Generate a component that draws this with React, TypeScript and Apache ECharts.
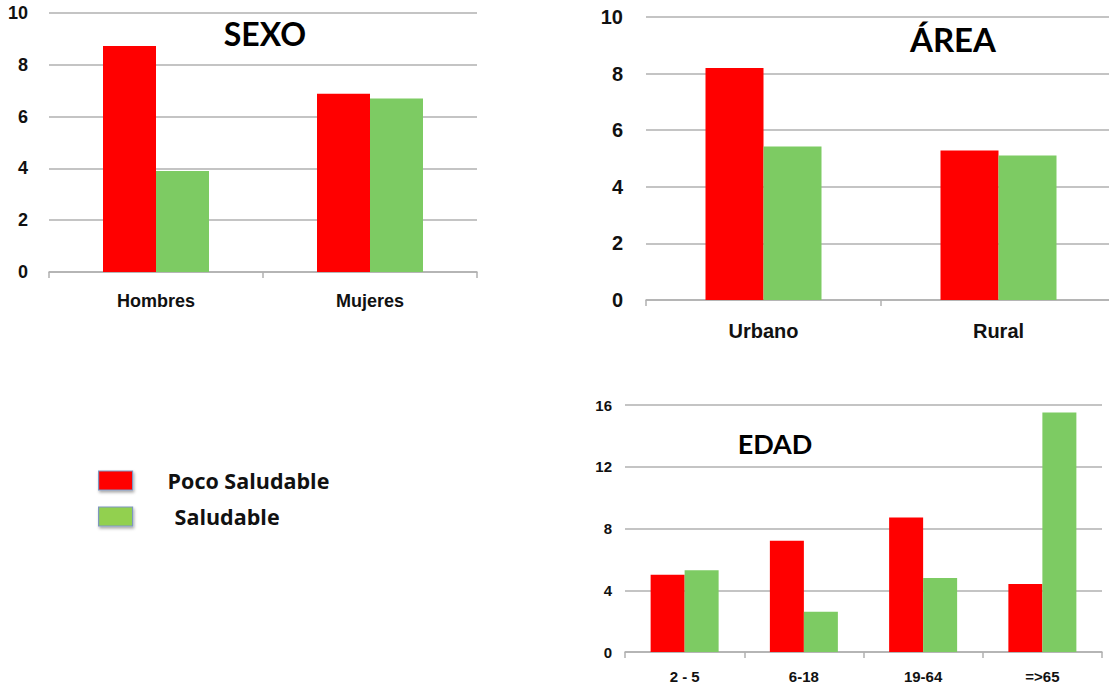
import React, { useEffect, useRef } from "react";
import * as echarts from "echarts";

const sexoCats = ["Hombres", "Mujeres"];
const sexoPoco = [8.73, 6.88];
const sexoSalud = [3.9, 6.7];

const areaCats = ["Urbano", "Rural"];
const areaPoco = [8.2, 5.28];
const areaSalud = [5.42, 5.11];

const edadCats = ["2 - 5", "6-18", "19-64", "=>65"];
const edadPoco = [5.0, 7.2, 8.72, 4.4];
const edadSalud = [5.3, 2.6, 4.8, 15.52];

const RED = "#ff0000";
const GREEN = "#7dcb63";
const GRID = "#b0b0b0";

export default function App() {
  const ref = useRef<HTMLDivElement>(null);
  useEffect(() => {
    if (!ref.current) return;
    const chart = echarts.init(ref.current, undefined, { renderer: "svg" });
    const labelFont = "'Liberation Sans', Arial, sans-serif";
    const narrowFont = "'Liberation Sans Narrow', 'Liberation Sans', Arial, sans-serif";
    const titleFont = "Lato, 'Open Sans', sans-serif";
    const legendFont = "'Open Sans', Lato, sans-serif";

    const mkX = (gi: number, data: string[], size: number, margin: number, fam: string) => ({
      type: "category",
      gridIndex: gi,
      data,
      axisLine: { lineStyle: { color: GRID, width: 1.5 } },
      axisTick: { show: true, length: 6, lineStyle: { color: GRID, width: 1.5 } },
      axisLabel: { color: "#111", fontWeight: "bold", fontSize: size, fontFamily: fam, margin },
    });
    const mkY = (gi: number, max: number, interval: number, size: number, margin: number, fam: string) => ({
      type: "value",
      gridIndex: gi,
      min: 0,
      max,
      interval,
      axisLine: { show: false },
      axisTick: { show: false },
      splitLine: { lineStyle: { color: GRID, width: 1.5 } },
      axisLabel: { color: "#111", fontWeight: "bold", fontSize: size, fontFamily: fam, margin },
    });
    const mkBar = (name: string, gi: number, data: number[], color: string, w: number) => ({
      type: "bar",
      name,
      xAxisIndex: gi,
      yAxisIndex: gi,
      data,
      barWidth: w,
      barGap: "0%",
      itemStyle: { color },
      emphasis: { disabled: true },
    });
    const mkLegend = (name: string, color: string, top: number, padTop: number, padLeft: number) => ({
      orient: "vertical",
      left: 98,
      top,
      padding: 0,
      itemWidth: 34,
      itemHeight: 19,
      icon: "rect",
      selectedMode: false,
      itemStyle: {
        color,
        borderColor: "#7f96c0",
        borderWidth: 1.2,
        shadowBlur: 3,
        shadowColor: "rgba(0,0,0,0.35)",
        shadowOffsetX: 1,
        shadowOffsetY: 2,
      },
      textStyle: {
        color: "#111",
        fontWeight: "bold",
        fontSize: 21.5,
        lineHeight: 19,
        fontFamily: legendFont,
        padding: [padTop, 0, 0, padLeft],
      },
      data: [name],
    });

    chart.setOption({
      animation: false,
      grid: [
        { left: 49, top: 13, width: 428, height: 259 },
        { left: 646, top: 17, width: 470, height: 283 },
        { left: 625, top: 405, width: 477, height: 247 },
      ],
      xAxis: [
        mkX(0, sexoCats, 18, 20, labelFont),
        mkX(1, areaCats, 20, 21, labelFont),
        mkX(2, edadCats, 15, 17, narrowFont),
      ],
      yAxis: [
        mkY(0, 10, 2, 18, 21, labelFont),
        mkY(1, 10, 2, 20, 23, labelFont),
        mkY(2, 16, 4, 15, 13, narrowFont),
      ],
      legend: [
        mkLegend("Poco Saludable", RED, 466.5, 9, 30),
        mkLegend("Saludable", "#92d050", 495.5, 23, 37),
      ],
      graphic: [
        {
          type: "text", x: 265, y: 33,
          style: { text: "SEXO", font: `bold 32px ${titleFont}`, fill: "#000", textAlign: "center", textVerticalAlign: "middle" },
        },
        {
          type: "text", x: 953, y: 39,
          style: { text: "ÁREA", font: `bold 33px ${titleFont}`, fill: "#000", textAlign: "center", textVerticalAlign: "middle" },
        },
        {
          type: "text", x: 775, y: 443,
          style: { text: "EDAD", font: `bold 27px ${titleFont}`, fill: "#000", textAlign: "center", textVerticalAlign: "middle" },
        },
      ],
      series: [
        mkBar("Poco Saludable", 0, sexoPoco, RED, 53),
        mkBar("Saludable", 0, sexoSalud, GREEN, 53),
        mkBar("Poco Saludable", 1, areaPoco, RED, 58),
        mkBar("Saludable", 1, areaSalud, GREEN, 58),
        mkBar("Poco Saludable", 2, edadPoco, RED, 34),
        mkBar("Saludable", 2, edadSalud, GREEN, 34),
      ],
    });
    return () => chart.dispose();
  }, []);
  return (
    <div style={{ position: "fixed", left: 0, top: 0, width: 1109, height: 687, overflow: "hidden", background: "#fff" }}>
      <div ref={ref} style={{ position: "absolute", left: 0, top: 0, width: 1125, height: 687 }} />
    </div>
  );
}
